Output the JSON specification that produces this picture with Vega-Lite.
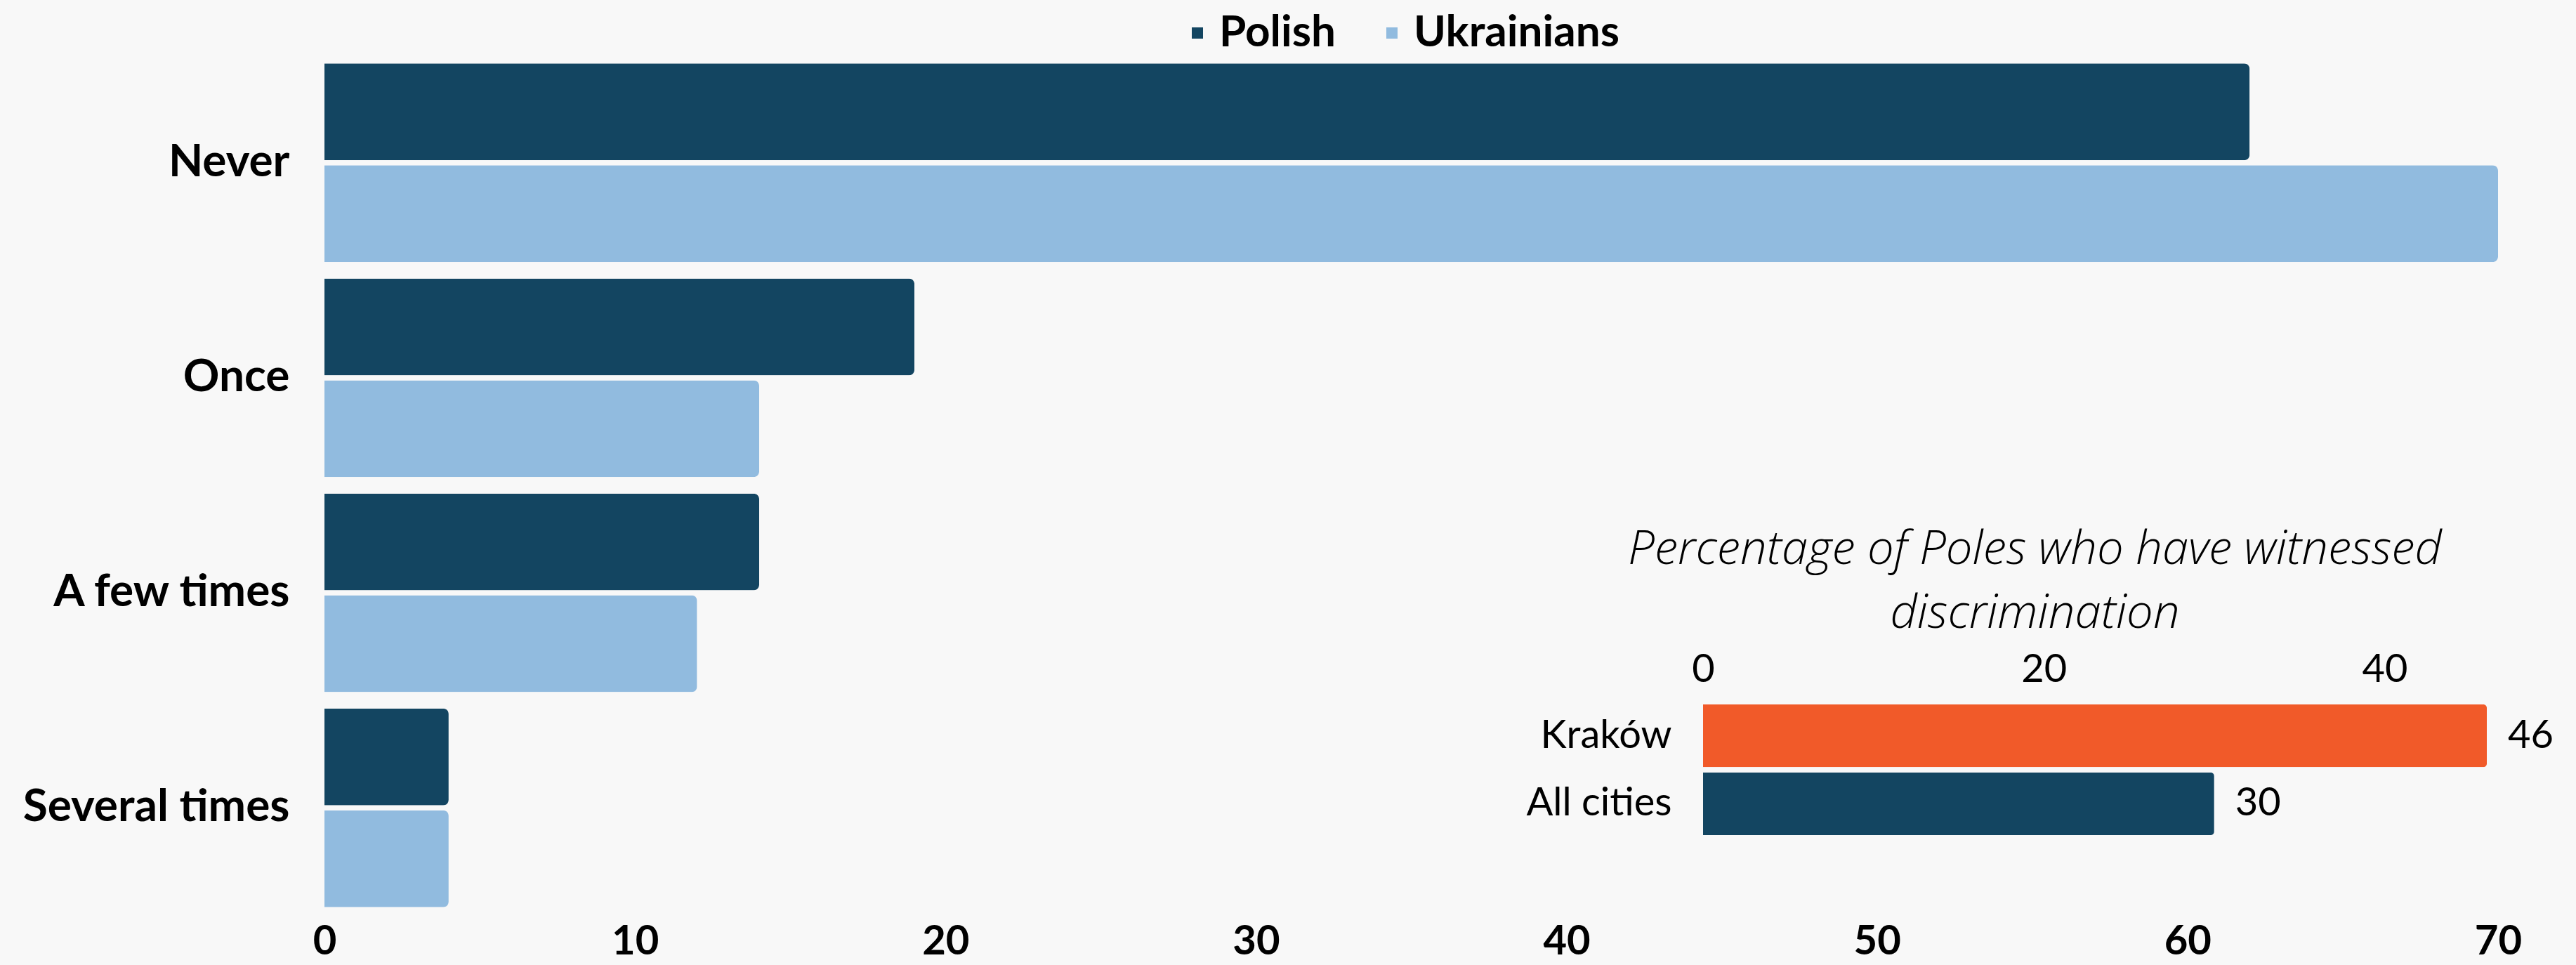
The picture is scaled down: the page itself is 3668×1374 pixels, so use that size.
{
  "$schema": "https://vega.github.io/schema/vega-lite/v6.json",
  "autosize": {"type": "none"},
  "padding": {"left": 462, "top": 78, "right": 111, "bottom": 70},
  "width": 3095,
  "height": 1226,
  "background": "#f8f8f8",
  "config": {
    "view": {"stroke": null},
    "font": "Lato",
    "axis": {"labelColor": "#000000", "titleColor": "#000000", "grid": false, "domain": false, "ticks": false, "labelLimit": 0, "labelFlush": false, "labelOverlap": false}
  },
  "layer": [
    {
      "data": {"values": [
        {"answer": "Never", "group": "Polish", "value": 62},
        {"answer": "Never", "group": "Ukrainians", "value": 70},
        {"answer": "Once", "group": "Polish", "value": 19},
        {"answer": "Once", "group": "Ukrainians", "value": 14},
        {"answer": "A few times", "group": "Polish", "value": 14},
        {"answer": "A few times", "group": "Ukrainians", "value": 12},
        {"answer": "Several times", "group": "Polish", "value": 4},
        {"answer": "Several times", "group": "Ukrainians", "value": 4}
      ]},
      "mark": {"type": "bar", "cornerRadiusEnd": 8},
      "encoding": {
        "y": {
          "field": "answer", "type": "nominal",
          "sort": ["Never", "Once", "A few times", "Several times"],
          "scale": {"paddingInner": 0.076, "paddingOuter": 0.04},
          "axis": {"orient": "left", "title": null, "labelFontSize": 64, "labelFontWeight": "bold", "labelPadding": 50}
        },
        "yOffset": {
          "field": "group", "type": "nominal",
          "sort": ["Polish", "Ukrainians"],
          "scale": {"paddingInner": 0.048, "paddingOuter": 0}
        },
        "x": {
          "field": "value", "type": "quantitative",
          "scale": {"domain": [0, 70], "nice": false},
          "axis": {"orient": "bottom", "title": null, "values": [0, 10, 20, 30, 40, 50, 60, 70], "labelFontSize": 58, "labelFontWeight": "bold", "labelPadding": 8}
        },
        "color": {
          "field": "group", "type": "nominal",
          "scale": {"domain": ["Polish", "Ukrainians"], "range": ["#134561", "#91bbdf"]},
          "legend": {
            "orient": "none", "legendX": 1212, "legendY": -62,
            "direction": "horizontal", "title": null,
            "symbolType": "square", "symbolSize": 256, "symbolStrokeWidth": 0,
            "labelFontSize": 62, "labelFontWeight": "bold", "labelColor": "#000000", "labelLimit": 0,
            "labelOffset": 0, "columnPadding": 49, "padding": 0
          }
        }
      }
    },
    {
      "data": {"values": [
        {"city": "Kraków", "pct": 46},
        {"city": "All cities", "pct": 30}
      ]},
      "encoding": {
        "y": {
          "field": "city", "type": "nominal",
          "sort": ["Kraków", "All cities"],
          "scale": {"range": [925, 1111], "paddingInner": 0.08, "paddingOuter": 0},
          "axis": {"orient": "left", "offset": -1963, "title": null, "labelFontSize": 56, "labelFontWeight": "normal", "labelPadding": 45}
        },
        "x": {
          "field": "pct", "type": "quantitative",
          "scale": {"domain": [0, 46], "nice": false, "range": [1963, 3079]},
          "axis": {
            "orient": "top", "offset": -925, "values": [0, 20, 40],
            "labelFontSize": 56, "labelFontWeight": "normal", "labelPadding": 21,
            "title": ["Percentage of Poles who have witnessed", "discrimination"],
            "titleFont": "Open Sans",
            "titleFontSize": 67, "titleFontStyle": "italic", "titleFontWeight": 300,
            "titleLineHeight": 91, "titleX": 2435, "titleY": -201,
            "titleAlign": "center", "titleBaseline": "alphabetic", "titleLimit": 0
          }
        }
      },
      "layer": [
        {
          "mark": {"type": "bar", "cornerRadiusEnd": 5},
          "encoding": {
            "color": {
              "field": "city", "type": "nominal",
              "scale": {"domain": ["Kraków", "All cities"], "range": ["#f15a29", "#134561"]},
              "legend": null
            }
          }
        },
        {
          "mark": {"type": "text", "align": "left", "baseline": "middle", "dx": 30, "fontSize": 56, "color": "#000000"},
          "encoding": {"text": {"field": "pct", "type": "quantitative"}}
        }
      ]
    }
  ],
  "resolve": {"scale": {"x": "independent", "y": "independent", "color": "independent"}}
}
